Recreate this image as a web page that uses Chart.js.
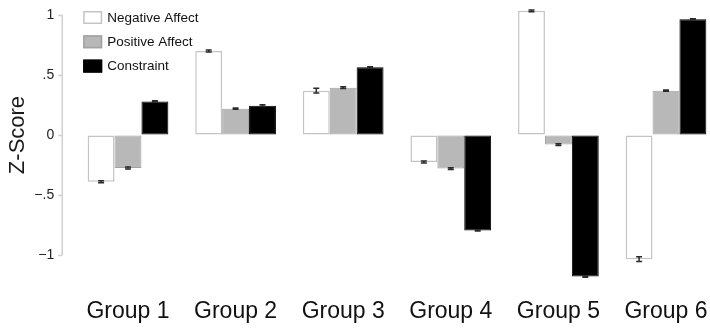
<!DOCTYPE html>
<html>
<head>
<meta charset="utf-8">
<script src="https://cdn.jsdelivr.net/npm/chart.js@4/dist/chart.umd.min.js"></script>
<style>
  html, body { margin: 0; padding: 0; background: #fff; overflow: hidden; }
  #wrap { width: 710px; height: 329px; }
</style>
</head>
<body>
<div id="wrap"><canvas id="chart" width="710" height="329"></canvas></div>
<script>
// Group labels along the x axis
const groups = ['Group 1', 'Group 2', 'Group 3', 'Group 4', 'Group 5', 'Group 6'];

// Mean z-scores per group
const negativeAffect = [-0.39, 0.70, 0.37, -0.225, 1.035, -1.035];
const positiveAffect = [-0.275, 0.22, 0.395, -0.28, -0.08, 0.37];
const constraint = [0.28, 0.245, 0.565, -0.795, -1.18, 0.965];

// Standard errors per group
const negativeAffectErr = [0.008, 0.008, 0.02, 0.008, 0.008, 0.02];
const positiveAffectErr = [0.008, 0.006, 0.008, 0.008, 0.008, 0.006];
const constraintErr = [0.005, 0.008, 0.005, 0.005, 0.005, 0.004];

// Y axis ticks and their printed labels
const yTickValues = [-1, -0.5, 0, 0.5, 1];
const yTickLabels = ['\u22121', '\u2212.5', '0', '.5', '1'];

const yAxisTitle = 'Z-Score';
const FONT = "'Liberation Sans', Arial, Helvetica, sans-serif";
Chart.defaults.font.family = FONT;

const toPoints = (arr) => arr.map((v, i) => ({ x: i, y: v }));

// Short vertical line on the left spanning the labelled range, with tick marks
const axisLine = {
  id: 'axisLine',
  beforeDatasetsDraw(chart) {
    const y = chart.scales.y;
    const ctx = chart.ctx;
    const x = Math.round(y.right - 12) + 0.25;
    ctx.save();
    ctx.strokeStyle = '#d0d0d0';
    ctx.lineWidth = 1.5;
    ctx.beginPath();
    ctx.moveTo(x, y.getPixelForValue(yTickValues[yTickValues.length - 1]));
    ctx.lineTo(x, y.getPixelForValue(yTickValues[0]));
    yTickValues.forEach(v => {
      const py = Math.round(y.getPixelForValue(v)) + 0.5;
      ctx.moveTo(x - 4, py);
      ctx.lineTo(x, py);
    });
    ctx.stroke();
    ctx.restore();
  }
};

// Error bars on top of each bar
const errorBars = {
  id: 'errorBars',
  afterDatasetsDraw(chart) {
    const y = chart.scales.y;
    const ctx = chart.ctx;
    ctx.save();
    ctx.strokeStyle = '#2a2a2a';
    ctx.lineWidth = 1.5;
    chart.data.datasets.forEach((ds, i) => {
      const meta = chart.getDatasetMeta(i);
      meta.data.forEach((bar, j) => {
        const v = ds.data[j].y;
        const e = ds.errors[j];
        const top = y.getPixelForValue(v + e);
        const bot = y.getPixelForValue(v - e);
        const hw = 3;
        ctx.beginPath();
        ctx.moveTo(bar.x, top); ctx.lineTo(bar.x, bot);
        ctx.moveTo(bar.x - hw, top); ctx.lineTo(bar.x + hw, top);
        ctx.moveTo(bar.x - hw, bot); ctx.lineTo(bar.x + hw, bot);
        ctx.stroke();
      });
    });
    ctx.restore();
  }
};

// Rotated y axis title, centred on the zero line
const yTitle = {
  id: 'yTitle',
  afterDraw(chart) {
    const y = chart.scales.y;
    const ctx = chart.ctx;
    ctx.save();
    ctx.translate(y.left + 18, y.getPixelForValue(0));
    ctx.rotate(-Math.PI / 2);
    ctx.font = '22px ' + FONT;
    ctx.fillStyle = '#1a1a1a';
    ctx.textAlign = 'center';
    ctx.textBaseline = 'middle';
    ctx.fillText(yAxisTitle, 0, 0);
    ctx.restore();
  }
};

// Legend stacked in the upper-left corner of the plot
const cornerLegend = {
  id: 'cornerLegend',
  afterDraw(chart) {
    const ctx = chart.ctx;
    const left = chart.chartArea.left + 9;
    const top = chart.chartArea.top + 1;
    ctx.save();
    ctx.font = '13.5px ' + FONT;
    ctx.textBaseline = 'middle';
    ctx.textAlign = 'left';
    chart.data.datasets.forEach((ds, i) => {
      const cy = top + 6.5 + i * 24.3;
      ctx.fillStyle = ds.backgroundColor;
      ctx.fillRect(left, cy - 6.5, 19, 13);
      ctx.strokeStyle = ds.borderColor;
      ctx.lineWidth = 1.5;
      ctx.strokeRect(left + 0.75, cy - 5.75, 17.5, 11.5);
      ctx.fillStyle = '#111';
      ctx.fillText(ds.label, left + 24, cy + 0.5);
    });
    ctx.restore();
  }
};

new Chart(document.getElementById('chart'), {
  type: 'bar',
  data: {
    datasets: [
      {
        label: 'Negative Affect',
        data: toPoints(negativeAffect),
        errors: negativeAffectErr,
        backgroundColor: '#ffffff',
        borderColor: '#c4c4c4',
        borderWidth: 1.5
      },
      {
        label: 'Positive Affect',
        data: toPoints(positiveAffect),
        errors: positiveAffectErr,
        backgroundColor: '#b8b8b8',
        borderColor: '#a2a2a2',
        borderWidth: 1
      },
      {
        label: 'Constraint',
        data: toPoints(constraint),
        errors: constraintErr,
        backgroundColor: '#000000',
        borderColor: '#000000',
        borderWidth: 1
      }
    ]
  },
  options: {
    responsive: false,
    animation: false,
    devicePixelRatio: 1,
    layout: { padding: { left: 0, right: 0, top: 10, bottom: 3.7 } },
    datasets: {
      bar: { categoryPercentage: 0.75, barPercentage: 1, borderSkipped: false, clip: false }
    },
    plugins: {
      legend: { display: false },
      tooltip: { enabled: false }
    },
    scales: {
      x: {
        type: 'linear',
        min: -0.5,
        max: 5.409,
        offset: false,
        grid: { display: true, color: 'rgba(0,0,0,0)', drawOnChartArea: false, drawTicks: true, tickLength: 20.5 },
        border: { display: false },
        afterBuildTicks: (s) => { s.ticks = groups.map((g, i) => ({ value: i })); },
        ticks: {
          padding: 0,
          autoSkip: false,
          maxRotation: 0,
          color: '#111',
          font: { size: 23 },
          callback: (v) => groups[v]
        }
      },
      y: {
        min: -1.185,
        max: 1.042,
        afterFit: (s) => { s.width = 74.2; },
        afterBuildTicks: (s) => { s.ticks = yTickValues.map(v => ({ value: v })); },
        grid: { display: true, color: 'rgba(0,0,0,0)', drawOnChartArea: false, drawTicks: true, tickLength: 20 },
        border: { display: false },
        ticks: {
          padding: 0,
          color: '#222',
          font: { size: 14 },
          callback: (v) => yTickLabels[yTickValues.indexOf(v)]
        }
      }
    }
  },
  plugins: [axisLine, errorBars, yTitle, cornerLegend]
});
</script>
</body>
</html>
